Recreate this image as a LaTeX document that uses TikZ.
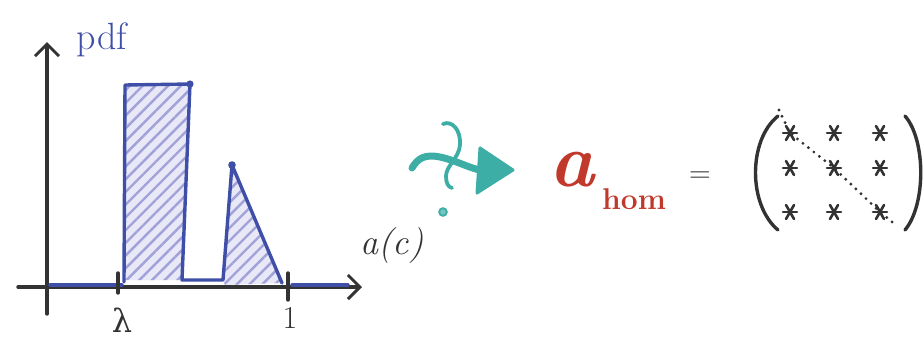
\documentclass[tikz,border=0pt]{standalone}
\usepackage{fontspec}
\newfontfamily\djserif{DejaVu Serif}
\usetikzlibrary{arrows.meta,patterns.meta}
\definecolor{penblue}{HTML}{3F4FA8}
\definecolor{hatchblue}{HTML}{A2A2DA}
\definecolor{fillblue}{HTML}{E8E8F7}
\definecolor{pengray}{HTML}{333333}
\definecolor{teal2}{HTML}{3DAEA6}
\definecolor{penred}{HTML}{C0392B}
\tikzset{
  axis/.style={pengray, line width=3.4pt, line cap=round, line join=round},
  axarrow/.style={axis, -{Straight Barb[length=12pt,width=24pt,line width=3pt]}},
  curve/.style={penblue, line width=3.4pt, line join=round, line cap=round},
  hatched/.style={fill=fillblue, postaction={pattern={Lines[angle=45,distance=9pt,line width=2.4pt]}, pattern color=hatchblue}},
  bluelbl/.style={penblue, inner sep=0pt},
  graylbl/.style={pengray, inner sep=0pt},
  starline/.style={pengray, line width=2.6pt, line cap=round},
  paren/.style={pengray, line width=3.4pt, line cap=round},
}
\newcommand\drawstar[1]{%
  \draw[starline] ([shift={(-7,0)}]#1) -- ([shift={(7,0)}]#1);
  \draw[starline] ([shift={(-4,-7)}]#1) -- ([shift={(4,7)}]#1);
  \draw[starline] ([shift={(4,-7)}]#1) -- ([shift={(-4,7)}]#1);
}
\begin{document}
\begin{tikzpicture}[x=1pt,y=-1pt]
\useasboundingbox (0,0) rectangle (924,343);
% axes
\coordinate (yb) at (47,314);
\coordinate (yt) at (47,42);
\coordinate (xl) at (18,287);
\coordinate (xr) at (362,287);
\draw[axarrow] (yb) -- (yt);
\draw[axarrow] (xl) -- (xr);
% pdf shape
\coordinate (p0) at (50,285);
\coordinate (p1) at (122,285);
\coordinate (p2) at (125,85);
\coordinate (p3) at (190,84);
\coordinate (p4) at (182,280);
\coordinate (p5) at (223,280);
\coordinate (p6) at (232,165);
\coordinate (p7) at (282,283);
\coordinate (p8) at (292,285);
\coordinate (p9) at (348,285);
\fill[hatched] (124,285) -- (p2) -- (p3) -- (p4) -- (124,280) -- cycle;
\fill[hatched] (p5) -- (p6) -- (p7) -- (225,285) -- cycle;
\draw[curve] (p0) -- (p1);
\draw[curve] (124,282) -- (p2) -- (p3) -- (p4) -- (p5) -- (p6) -- (p7);
\draw[curve] (p8) -- (p9);
\fill[penblue] (p3) circle (3.6pt) (p6) circle (3.8pt);
% ticks
\coordinate (t1a) at (118,273);
\coordinate (t1b) at (118,293);
\coordinate (t2a) at (288,273);
\coordinate (t2b) at (288,300);
\draw[axis] (t1a) -- (t1b);
\draw[axis] (t2a) -- (t2b);
% labels
\node[bluelbl, font=\fontsize{38}{38}\selectfont] (pdf) at (102,40) {pdf};
\node[graylbl, font=\djserif\fontsize{32}{32}\selectfont] (lam) at (122,320) {λ};
\node[graylbl, font=\fontsize{32}{32}\selectfont] (one) at (290,318) {1};
\node[graylbl, font=\itshape\fontsize{36}{36}\selectfont] (ac) at (392,246) {a(c)};
% teal squiggly arrow
\coordinate (s0) at (412,168);
\coordinate (s1) at (484,171);
\coordinate (tip) at (513,170);
\draw[teal2, line width=7pt, line cap=round] (s0) .. controls (418,158) and (425,154) .. (440,157) .. controls (458,161) and (468,168) .. (s1);
\filldraw[teal2, line width=3pt, line join=round] (480,148) -- (tip) -- (477,193) -- cycle;
\coordinate (v0) at (443,124);
\coordinate (v1) at (452,188);
\draw[teal2, line width=3.8pt, line cap=round] (v0) .. controls (452,120) and (461,130) .. (460,145) .. controls (459,158) and (446,166) .. (446,176) .. controls (446,183) and (448,187) .. (v1);
\fill[teal2!70] (443,212) circle (4.5pt);
\draw[teal2, line width=1.8pt] (443,212) circle (3.8pt);
% a_hom
\node[penred, inner sep=0pt, font=\bfseries\itshape\fontsize{76}{76}\selectfont] (a) at (572,170) {a};
\node[penred, inner sep=0pt, font=\bfseries\fontsize{30}{30}\selectfont] (hom) at (634,199) {hom};
\node[graylbl, font=\fontsize{30}{30}\selectfont] (eq) at (700,177) {=};
% matrix
\draw[paren] (778,116) .. controls (748,140) and (748,205) .. (778,230);
\draw[paren] (905,116) .. controls (926,140) and (926,205) .. (905,230);
\coordinate (m11) at (790,133);
\coordinate (m12) at (834,133);
\coordinate (m13) at (880,133);
\coordinate (m21) at (790,168);
\coordinate (m22) at (834,168);
\coordinate (m23) at (880,168);
\coordinate (m31) at (790,212);
\coordinate (m32) at (834,212);
\coordinate (m33) at (880,212);
\foreach \m in {m11,m12,m13,m21,m22,m23,m31,m32,m33} {\drawstar{\m}}
\coordinate (d0) at (779,110);
\coordinate (d1) at (897,226);
\draw[pengray, line width=3.2pt, line cap=round, dash pattern=on 0pt off 7pt] (d0) -- (m11) -- (m22) -- (m33) -- (d1);
\end{tikzpicture}
\end{document}
